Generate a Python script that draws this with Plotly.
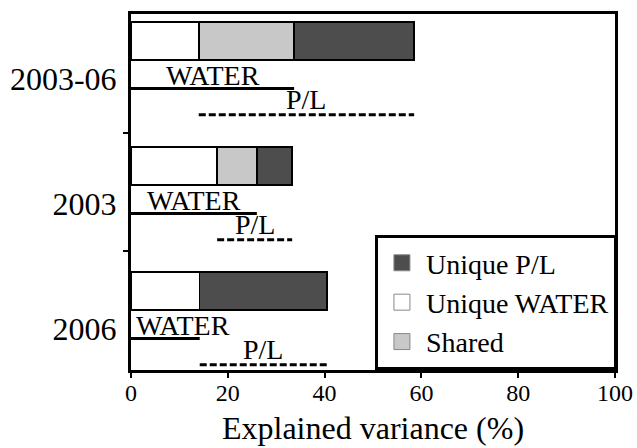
import plotly.graph_objects as go

# ---- data ----
periods = ["2006", "2003", "2003-06"]          # bottom -> top
unique_water = [14.2, 17.8, 14.0]
shared = [0.0, 8.2, 19.7]
unique_pl = [26.3, 7.3, 24.8]
x_ticks = [0, 20, 40, 60, 80, 100]

# ---- layout constants ----
FONT = "Liberation Serif"
BAR_W = 0.304
WATER_OFF = 0.38
PL_OFF = 0.59
LABEL_OFF = 0.304
C_PL = "#4d4d4d"
C_WATER = "#ffffff"
C_SHARED = "#c8c8c8"
ANN_SIZE = 28

ypos = list(range(len(periods)))

fig = go.Figure()

bar_line = dict(color="black", width=1.5)
fig.add_trace(go.Bar(y=ypos, x=unique_water, orientation="h", width=BAR_W,
                     marker=dict(color=C_WATER, line=bar_line), showlegend=False))
fig.add_trace(go.Bar(y=ypos, x=shared, orientation="h", width=BAR_W,
                     marker=dict(color=C_SHARED, line=bar_line), showlegend=False))
fig.add_trace(go.Bar(y=ypos, x=unique_pl, orientation="h", width=BAR_W,
                     marker=dict(color=C_PL, line=bar_line), showlegend=False))

annotations = []
for i, y in enumerate(ypos):
    water_end = unique_water[i] + shared[i]
    pl_start = unique_water[i]
    pl_end = unique_water[i] + shared[i] + unique_pl[i]
    yw = y - WATER_OFF
    yp = y - PL_OFF
    fig.add_trace(go.Scatter(x=[0, water_end], y=[yw, yw], mode="lines",
                             line=dict(color="black", width=3), showlegend=False,
                             hoverinfo="skip"))
    fig.add_trace(go.Scatter(x=[pl_start, pl_end], y=[yp, yp], mode="lines",
                             line=dict(color="black", width=3, dash="7px,3px"),
                             showlegend=False, hoverinfo="skip"))
    mid_w = water_end / 2
    if mid_w < 10:
        annotations.append(dict(x=0.6, y=yw, xref="x", yref="y", text="WATER",
                                showarrow=False, xanchor="left", yanchor="bottom",
                                yshift=-4, font=dict(family=FONT, size=ANN_SIZE, color="black")))
    else:
        annotations.append(dict(x=mid_w, y=yw, xref="x", yref="y", text="WATER",
                                showarrow=False, xanchor="center", yanchor="bottom",
                                yshift=-4, font=dict(family=FONT, size=ANN_SIZE, color="black")))
    annotations.append(dict(x=(pl_start + pl_end) / 2, y=yp, xref="x", yref="y", text="P/L",
                            showarrow=False, xanchor="center", yanchor="bottom",
                            yshift=-2, font=dict(family=FONT, size=ANN_SIZE, color="black")))

# legend-only entries
for name, col in [("Unique P/L", C_PL), ("Unique WATER", C_WATER), ("Shared", C_SHARED)]:
    fig.add_trace(go.Scatter(x=[None], y=[None], mode="markers", name=name,
                             marker=dict(symbol="square", size=22, color=col,
                                         line=dict(color="#888888", width=1))))

y_top = 2 + 27 / 125
y_bot = -79 / 125
bounds = [y_bot + k * (y_top - y_bot) / 3 for k in range(4)]

fig.update_layout(
    barmode="stack",
    width=637, height=448,
    margin=dict(l=131, r=22, t=14, b=78, autoexpand=False),
    plot_bgcolor="white", paper_bgcolor="white",
    font=dict(family=FONT, color="black"),
    annotations=annotations,
    legend=dict(x=0.504, y=0.379, xanchor="left", yanchor="top",
                bordercolor="black", borderwidth=3, bgcolor="white",
                font=dict(family=FONT, size=28, color="black"),
                traceorder="normal", tracegroupgap=0, itemwidth=38),
    xaxis=dict(range=[0, 100], tickvals=x_ticks, ticks="outside", ticklen=5,
               tickwidth=2, tickcolor="black", showline=True, linewidth=3,
               linecolor="black", mirror=True, showgrid=False, zeroline=False,
               ticklabelstandoff=-6,
               tickfont=dict(family=FONT, size=24, color="black"),
               title=dict(text="Explained variance (%)",
                          font=dict(family=FONT, size=32, color="black"), standoff=12)),
    yaxis=dict(range=[y_bot, y_top], tickvals=[p - LABEL_OFF for p in ypos],
               ticktext=periods, ticks="", showline=True, linewidth=3,
               linecolor="black", mirror=True, showgrid=False, zeroline=False,
               ticklabelstandoff=5,
               tickfont=dict(family=FONT, size=32, color="black"),
               minor=dict(tickvals=bounds[1:3], ticks="outside", ticklen=5,
                          tickwidth=2, tickcolor="black", showgrid=False)),
)

fig.write_html("out.html", config={"displayModeBar": False},
               post_script="document.body.style.margin='0';")
